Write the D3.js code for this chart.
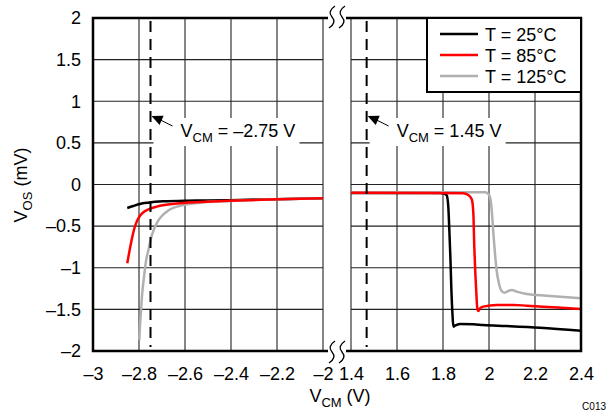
<!DOCTYPE html>
<html>
<head>
<meta charset="utf-8">
<script src="https://cdn.jsdelivr.net/npm/d3@7"></script>
<style>
  body { margin: 0; background: #fff; }
  text { font-family: "Liberation Sans", Arial, sans-serif; }
</style>
</head>
<body>
<div id="chart"></div>
<script>
// tick labels
const yTicks = [-2, -1.5, -1, -0.5, 0, 0.5, 1, 1.5, 2];
const leftTicks = [-3, -2.8, -2.6, -2.4, -2.2, -2];
const rightTicks = [1.4, 1.6, 1.8, 2, 2.2, 2.4];

// marker lines (V_CM)
const markLeft = -2.75;
const markRight = 1.468;

const seriesNames = ["T = 25°C", "T = 85°C", "T = 125°C"];
const seriesColors = ["#000000", "#ff0000", "#b0b0b0"];

// left panel (V_CM near negative rail)
const left25 = [[-2.851, -0.282], [-2.825, -0.258], [-2.796, -0.234], [-2.76, -0.218], [-2.694, -0.202],
  [-2.597, -0.194], [-2.506, -0.192], [-2.404, -0.188], [-2.201, -0.176], [-2.0, -0.166]];
const left85 = [[-2.851, -0.947], [-2.842, -0.807], [-2.832, -0.667], [-2.822, -0.547], [-2.81, -0.446],
  [-2.796, -0.378], [-2.781, -0.334], [-2.759, -0.298], [-2.723, -0.266], [-2.665, -0.238],
  [-2.597, -0.218], [-2.506, -0.206], [-2.404, -0.194], [-2.201, -0.178], [-2.0, -0.166]];
const left125 = [[-2.7986, -1.868], [-2.796, -1.708], [-2.791, -1.508], [-2.786, -1.307], [-2.778, -1.107],
  [-2.77, -0.927], [-2.759, -0.787], [-2.748, -0.647], [-2.735, -0.539], [-2.719, -0.446],
  [-2.701, -0.378], [-2.68, -0.326], [-2.651, -0.282], [-2.607, -0.246], [-2.535, -0.218],
  [-2.404, -0.198], [-2.201, -0.178], [-2.0, -0.166]];

// right panel (V_CM near positive rail)
const right25 = [[1.4, -0.102], [1.787, -0.102], [1.804, -0.108], [1.816, -0.13], [1.823, -0.266],
  [1.8275, -0.547], [1.832, -0.867], [1.836, -1.227], [1.841, -1.548], [1.845, -1.708],
  [1.852, -1.696], [1.874, -1.676], [1.932, -1.68], [1.975, -1.688], [2.077, -1.7],
  [2.222, -1.72], [2.4, -1.756]];
const right85 = [[1.4, -0.1], [1.888, -0.104], [1.91, -0.126], [1.925, -0.178], [1.932, -0.346],
  [1.936, -0.747], [1.9406, -1.067], [1.945, -1.307], [1.949, -1.487], [1.954, -1.52],
  [1.961, -1.487], [1.975, -1.467], [2.033, -1.447], [2.106, -1.447], [2.164, -1.455],
  [2.28, -1.475], [2.4, -1.495]];
const right125 = [[1.4, -0.094], [1.983, -0.094], [1.997, -0.114], [2.007, -0.186], [2.013, -0.346],
  [2.019, -0.587], [2.026, -0.827], [2.033, -1.027], [2.043, -1.187], [2.055, -1.279],
  [2.067, -1.299], [2.084, -1.279], [2.099, -1.267], [2.12, -1.287], [2.164, -1.315],
  [2.251, -1.335], [2.4, -1.367]];

const W = 610, H = 413;
const yTop = 18, yBot = 351;

const svg = d3.select("#chart").append("svg")
  .attr("width", W).attr("height", H);

const y = d3.scaleLinear().domain([-2, 2]).range([yBot, yTop]);
const xL = d3.scaleLinear().domain([-3, -2]).range([93, 323]);
const xR = d3.scaleLinear().domain([1.4, 2.4]).range([351, 581]);

const fmt = d => String(d).replace("-", "\u2013");
const fs = 18;

// clip paths
const defs = svg.append("defs");
[["clipL", xL], ["clipR", xR]].forEach(([id, sc]) => {
  defs.append("clipPath").attr("id", id).append("rect")
    .attr("x", sc.range()[0]).attr("y", yTop)
    .attr("width", sc.range()[1] - sc.range()[0]).attr("height", yBot - yTop);
});

function panel(x, ticks, clip, data, mark) {
  const g = svg.append("g");
  // grid
  g.selectAll(".vg").data(ticks).enter().append("line")
    .attr("x1", d => x(d)).attr("x2", d => x(d))
    .attr("y1", yTop).attr("y2", yBot)
    .attr("stroke", "#222").attr("stroke-width", 1.1);
  g.selectAll(".hg").data(yTicks).enter().append("line")
    .attr("x1", x.range()[0]).attr("x2", x.range()[1])
    .attr("y1", d => y(d)).attr("y2", d => y(d))
    .attr("stroke", "#222").attr("stroke-width", 1.1);

  // x tick labels
  const ax = d3.axisBottom(x).tickValues(ticks).tickSize(0).tickPadding(0).tickFormat(fmt);
  const axg = svg.append("g").attr("transform", `translate(0,${yBot + 16})`).call(ax);
  axg.select(".domain").remove();
  axg.selectAll("text").attr("font-size", fs).attr("fill", "#000")
    .attr("dy", "0.71em").attr("font-family", "Liberation Sans, Arial, sans-serif");

  // curves
  const line = d3.line().x(d => x(d[0])).y(d => y(d[1])).curve(d3.curveMonotoneX);
  const order = [0, 2, 1];
  const cg = svg.append("g").attr("clip-path", `url(#${clip})`);
  order.forEach(i => {
    cg.append("path").datum(data[i]).attr("d", line)
      .attr("fill", "none").attr("stroke", seriesColors[i])
      .attr("stroke-width", 2.5).attr("stroke-linejoin", "round");
  });

  // dashed marker
  svg.append("line")
    .attr("x1", x(mark)).attr("x2", x(mark))
    .attr("y1", yTop + 3).attr("y2", yBot - 4)
    .attr("stroke", "#000").attr("stroke-width", 2)
    .attr("stroke-dasharray", "11,7");
  return g;
}

panel(xL, leftTicks, "clipL", [left25, left85, left125], markLeft);
panel(xR, rightTicks, "clipR", [right25, right85, right125], markRight);

// annotations
function note(x, mark, boxW, label) {
  const x0 = x(mark);
  svg.append("rect").attr("x", x0 + 3).attr("y", 118)
    .attr("width", boxW).attr("height", 28).attr("fill", "#fff");
  const t = svg.append("text").attr("x", x0 + 30).attr("y", 137).attr("font-size", fs);
  t.append("tspan").text("V");
  t.append("tspan").attr("font-size", 13).attr("dy", 5).text("CM");
  t.append("tspan").attr("dy", -5).text(" = " + label);
  // arrow
  const tx = x0 + 1, ty = 116;
  svg.append("line").attr("x1", x0 + 22).attr("y1", 126).attr("x2", tx + 8).attr("y2", ty + 3.5)
    .attr("stroke", "#000").attr("stroke-width", 1);
  svg.append("path")
    .attr("d", `M${tx},${ty} L${tx + 12.1},${ty - 0.3} L${tx + 8.1},${ty + 8.9} Z`)
    .attr("fill", "#000");
}
note(xL, markLeft, 146, "\u20132.75 V");
note(xR, markRight, 136, "1.45 V");

// borders
const bw = 2.5;
const bl = svg.append("g").attr("stroke", "#000").attr("stroke-width", bw).attr("fill", "none");
bl.append("path").attr("d", `M328,${yTop} H${xL(-3)} V${yBot} H328`);
bl.append("path").attr("d", `M346,${yTop} H${xR(2.4)} V${yBot} H346`);

// axis breaks
function brk(cx, cy) {
  const h = 11;
  svg.append("path")
    .attr("d", `M${cx + 3},${cy - h} Q${cx - 5},${cy - h / 2} ${cx},${cy} T${cx - 3},${cy + h}`)
    .attr("fill", "none").attr("stroke", "#000").attr("stroke-width", 1.3);
}
[332, 342].forEach(cx => { brk(cx, yTop - 1); brk(cx, yBot + 1); });

// y tick labels
const yax = d3.axisLeft(y).tickValues(yTicks).tickSize(0).tickPadding(0).tickFormat(fmt);
const yg = svg.append("g").attr("transform", "translate(81,0)").call(yax);
yg.select(".domain").remove();
yg.selectAll("text").attr("font-size", fs).attr("fill", "#000")
  .attr("font-family", "Liberation Sans, Arial, sans-serif");

// legend
const lg = svg.append("g");
lg.append("rect").attr("x", 427).attr("y", yTop).attr("width", 154).attr("height", 74)
  .attr("fill", "#fff").attr("stroke", "#000").attr("stroke-width", 2);
seriesNames.forEach((n, i) => {
  const ly = 34 + i * 21;
  lg.append("line").attr("x1", 440).attr("x2", 478).attr("y1", ly).attr("y2", ly)
    .attr("stroke", seriesColors[i]).attr("stroke-width", 2.5);
  lg.append("text").attr("x", 485).attr("y", ly + 6.5).attr("font-size", fs).text(n);
});

// axis titles
const xt = svg.append("text").attr("x", 340).attr("y", 402).attr("text-anchor", "middle").attr("font-size", fs);
xt.append("tspan").text("V");
xt.append("tspan").attr("font-size", 13).attr("dy", 5).text("CM");
xt.append("tspan").attr("dy", -5).text(" (V)");

const yt = svg.append("text").attr("transform", "translate(27,185) rotate(-90)")
  .attr("text-anchor", "middle").attr("font-size", fs);
yt.append("tspan").text("V");
yt.append("tspan").attr("font-size", 13).attr("dy", 5).text("OS");
yt.append("tspan").attr("dy", -5).text(" (mV)");

svg.append("text").attr("x", 606).attr("y", 410).attr("text-anchor", "end")
  .attr("font-size", 10).text("C013");
</script>
</body>
</html>
